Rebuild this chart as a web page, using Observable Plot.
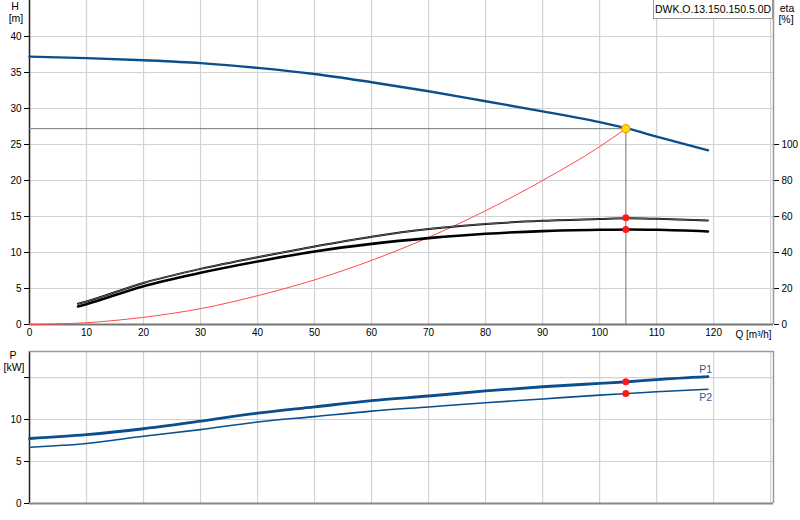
<!DOCTYPE html>
<html><head><meta charset="utf-8">
<script src="https://cdn.jsdelivr.net/npm/d3@7"></script>
<script src="https://cdn.jsdelivr.net/npm/@observablehq/plot@0.6"></script>
<style>
body{margin:0;background:#fff;font-family:"Liberation Sans",Arial,sans-serif;}
#wrap{position:relative;width:800px;height:520px;overflow:hidden;background:#fff;}
#topc,#botc{position:absolute;left:0;}
#topc{top:0px}
#botc{top:340px}
.lbl{position:absolute;font-size:10.5px;line-height:12px;color:#000;white-space:nowrap;transform:translateX(-50%);}
#legend{position:absolute;left:653px;top:-1px;width:118px;height:18px;border:1px solid #999;background:#fff;font-size:10.5px;line-height:18px;text-align:center;color:#000;}
</style></head>
<body><div id="wrap">
<div id="topc"></div><div id="botc"></div>
<div class="lbl" style="left:15px;top:0px">H</div>
<div class="lbl" style="left:16px;top:12px">[m]</div>
<div class="lbl" style="left:787px;top:2px">eta</div>
<div class="lbl" style="left:786px;top:13px">[%]</div>
<div class="lbl" style="left:13px;top:349px">P</div>
<div class="lbl" style="left:14px;top:361px">[kW]</div>
<div id="legend">DWK.O.13.150.150.5.0D</div>
</div>
<script>
// ---- data ----
const qH   = [0, 10, 20, 30, 40, 50, 60, 70, 80, 90, 100, 105, 110, 119];
const head = [37.2, 37.0, 36.7, 36.3, 35.65, 34.8, 33.65, 32.4, 31.0, 29.6, 28.1, 27.2, 26.1, 24.2];

const qEta     = [8.5, 10, 20, 30, 40, 50, 60, 70, 80, 90, 100, 105, 110, 119];
const etaUpper = [11.5, 12.8, 23.1, 30.9, 37.4, 43.3, 48.8, 53.1, 55.9, 57.6, 58.6, 59.0, 58.7, 57.8];
const etaLower = [10.0, 11.3, 21.3, 28.7, 35.0, 40.6, 44.8, 48.0, 50.4, 51.9, 52.6, 52.8, 52.6, 51.7];

const qSys   = [0, 10, 20, 30, 40, 50, 60, 70, 80, 90, 100, 104.6];
const hSys   = [0, 0.25, 1.0, 2.2, 4.0, 6.2, 8.9, 12.1, 15.8, 20.0, 24.7, 27.2];

const qP  = [0, 10, 20, 30, 40, 50, 60, 70, 80, 90, 100, 105, 110, 119];
const p1  = [7.74, 8.2, 8.9, 9.8, 10.75, 11.5, 12.25, 12.8, 13.4, 13.9, 14.3, 14.5, 14.75, 15.1];
const p2  = [6.7, 7.15, 8.0, 8.8, 9.7, 10.35, 11.0, 11.5, 12.0, 12.45, 12.9, 13.1, 13.3, 13.6];

const dutyQ = 104.6, dutyH = 27.2, dutyEtaU = 59.3, dutyEtaL = 52.8, dutyP1 = 14.5, dutyP2 = 13.1;

const xTicks = [0,10,20,30,40,50,60,70,80,90,100,110,120];
const xGrid  = [0,10,20,30,40,50,60,70,80,90,100,110,120,130];
const hTicks = [0,5,10,15,20,25,30,35,40];
const etaTicks = [0,20,40,60,80,100];
const pTicks = [0,5,10,15];
const pLabels = ["0","5","10",""];

// eta axis: 0..180 % maps onto H 0..45 m
const etaToH = e => e / 4;

const blue = "#0b4e8c";
const font = "'Liberation Sans', Arial, sans-serif";
const xMax = 130.5;

const hData = qH.map((q,i)=>({q, v: head[i]}));
const eU = qEta.map((q,i)=>({q, v: etaToH(etaUpper[i])}));
const eL = qEta.map((q,i)=>({q, v: etaToH(etaLower[i])}));
const sys = qSys.map((q,i)=>({q, v: hSys[i]}));
const P1 = qP.map((q,i)=>({q, v: p1[i]}));
const P2 = qP.map((q,i)=>({q, v: p2[i]}));

const topChart = Plot.plot({
  width: 800, height: 345,
  marginLeft: 29, marginRight: 27, marginTop: 0, marginBottom: 21,
  x: {domain: [0, xMax]},
  y: {domain: [0, 45]},
  style: {fontFamily: font, fontSize: "10px", color: "#000", background: "transparent"},
  marks: [
    Plot.gridX(xGrid, {stroke: "#d2d2d2", strokeOpacity: 1, strokeWidth: 1.2}),
    Plot.gridY(hTicks, {stroke: "#d2d2d2", strokeOpacity: 1, strokeWidth: 1.2}),
    Plot.axisX(xTicks, {tickSize: 0, tickPadding: 4, label: null, fontSize: 10}),
    Plot.axisY(hTicks, {tickSize: 5, tickPadding: 3, label: null, fontSize: 10, stroke: "#000"}),
    Plot.axisY(etaTicks.map(etaToH), {anchor: "right", tickSize: 5, tickPadding: 3, label: null, fontSize: 10,
      tickFormat: d => String(Math.round(d*4)), stroke: "#000"}),
    Plot.ruleX([0], {stroke: "#222", strokeWidth: 1.5}),
    Plot.ruleX([xMax], {stroke: "#999", strokeWidth: 1.5}),
    Plot.ruleY([0], {stroke: "#777", strokeWidth: 2}),
    Plot.text(["Q [m³/h]"], {x: 130, y: 0, frameAnchor: "bottom", dy: 13, textAnchor: "end", fontSize: 10, dx: 1}),
    // duty point reference lines
    Plot.ruleY([dutyH], {x1: 0, x2: dutyQ, stroke: "#777", strokeWidth: 1}),
    Plot.ruleX([dutyQ], {y1: 0, y2: dutyH, stroke: "#888", strokeWidth: 1.2}),
    // system curve
    Plot.line(sys, {x: "q", y: "v", stroke: "#ff4a4a", strokeWidth: 1, curve: "monotone-x"}),
    // efficiency curves
    Plot.line(eU, {x: "q", y: "v", stroke: "#000", strokeWidth: 2.0, curve: "monotone-x"}),
    Plot.line(eU, {x: "q", y: "v", stroke: "#bbb", strokeWidth: 0.5, curve: "monotone-x"}),
    Plot.line(eL, {x: "q", y: "v", stroke: "#000", strokeWidth: 2.6, curve: "monotone-x"}),
    // head curve
    Plot.line(hData, {x: "q", y: "v", stroke: blue, strokeWidth: 2.4, curve: "monotone-x"}),
    Plot.dot([{q: dutyQ, v: etaToH(dutyEtaU)}, {q: dutyQ, v: etaToH(dutyEtaL)}], {x: "q", y: "v", r: 3.5, fill: "#ff1a1a", stroke: "none"}),
    Plot.dot([{q: dutyQ, v: dutyH}], {x: "q", y: "v", r: 4, fill: "#ffe000", stroke: "#ff9a00", strokeWidth: 1.3})
  ]
});
document.getElementById("topc").appendChild(topChart);

const botChart = Plot.plot({
  width: 800, height: 180,
  marginLeft: 29, marginRight: 27, marginTop: 11, marginBottom: 17,
  x: {domain: [0, xMax], axis: null},
  y: {domain: [0, 18.1]},
  style: {fontFamily: font, fontSize: "10px", color: "#000", background: "transparent"},
  marks: [
    Plot.gridX(xGrid, {stroke: "#d2d2d2", strokeOpacity: 1, strokeWidth: 1.2}),
    Plot.gridY(pTicks, {stroke: "#d2d2d2", strokeOpacity: 1, strokeWidth: 1.2}),
    Plot.axisY(pTicks, {tickSize: 5, tickPadding: 3, label: null, fontSize: 10, stroke: "#000",
      tickFormat: d => pLabels[pTicks.indexOf(d)]}),
    Plot.ruleX([0], {stroke: "#222", strokeWidth: 1.5}),
    Plot.ruleX([xMax], {stroke: "#999", strokeWidth: 1.5}),
    Plot.ruleY([0], {stroke: "#888", strokeWidth: 2}),
    Plot.ruleY([18.1], {stroke: "#999", strokeWidth: 1.5}),
    Plot.line(P2, {x: "q", y: "v", stroke: blue, strokeWidth: 1.6, curve: "monotone-x"}),
    Plot.line(P1, {x: "q", y: "v", stroke: blue, strokeWidth: 2.8, curve: "monotone-x"}),
    Plot.dot([{q: dutyQ, v: dutyP1}, {q: dutyQ, v: dutyP2}], {x: "q", y: "v", r: 3.5, fill: "#ff1a1a", stroke: "none"}),
    Plot.text([{q: 118.6, v: 16.0, t: "P1"}, {q: 118.6, v: 12.6, t: "P2"}], {x: "q", y: "v", text: "t", fill: "#1d5c9c", fontSize: 10.5})
  ]
});
document.getElementById("botc").appendChild(botChart);
</script>
</body></html>
